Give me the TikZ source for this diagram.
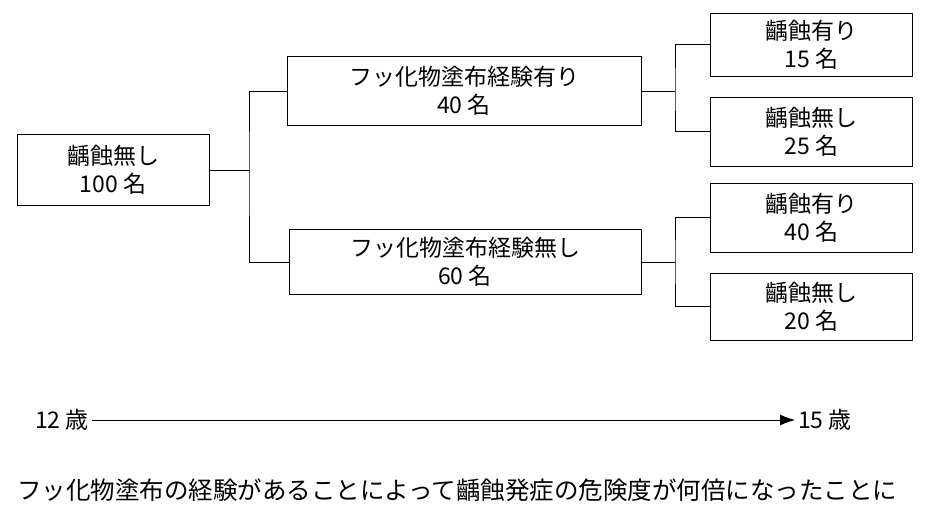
\documentclass[tikz,border=0pt]{standalone}
\usepackage{fontspec}
\setmainfont{Noto Sans CJK JP}
\usetikzlibrary{arrows.meta}
\tikzset{
  box/.style={draw, thick, align=center, inner sep=0pt, font=\fontsize{23}{28}\selectfont},
  lbl/.style={font=\fontsize{23}{28}\selectfont, inner sep=3pt}
}
\begin{document}
\begin{tikzpicture}[x=1pt, y=-1pt]
    \useasboundingbox (0,0) rectangle (926,516);
    \node[box, minimum width=192pt, minimum height=71pt] (root) at (113,170) {齲蝕無し\\100 名};
    \node[box, minimum width=354pt, minimum height=69pt] (up) at (464,91) {フッ化物塗布経験有り\\40 名};
    \node[box, minimum width=352pt, minimum height=65pt] (low) at (465,262) {フッ化物塗布経験無し\\60 名};
    \node[box, minimum width=202pt, minimum height=63pt] (r1) at (811.5,44.5) {齲蝕有り\\15 名};
    \node[box, minimum width=202pt, minimum height=69pt] (r2) at (811.5,131.5) {齲蝕無し\\25 名};
    \node[box, minimum width=202pt, minimum height=69pt] (r3) at (811.5,217.5) {齲蝕有り\\40 名};
    \node[box, minimum width=202pt, minimum height=67pt] (r4) at (811.5,306.5) {齲蝕無し\\20 名};

    % 分岐
    \coordinate (j) at (249,170);
    \coordinate (ju) at (675,91);
    \coordinate (jl) at (675,262);
    \draw[thick] (root.east) -- (j);
    \draw[thick] (up.west) -| (j) |- (low.west);
    \draw[thick] (up.east) -- (ju);
    \draw[thick] (r1.west) -| (ju) |- (r2.west);
    \draw[thick] (low.east) -- (jl);
    \draw[thick] (r3.west) -| (jl) |- (r4.west);

    % 時間軸
    \node[lbl] (t0) at (62,420) {12 歳};
    \node[lbl, anchor=west] (t1) at (795,420) {15 歳};
    \draw[thick, -{Latex[length=15pt, width=11pt]}] (t0) -- (t1);

    \node[lbl, anchor=west, font=\fontsize{24.5}{28}\selectfont] (note) at (14,490) {フッ化物塗布の経験があることによって齲蝕発症の危険度が何倍になったことに};
\end{tikzpicture}
\end{document}
